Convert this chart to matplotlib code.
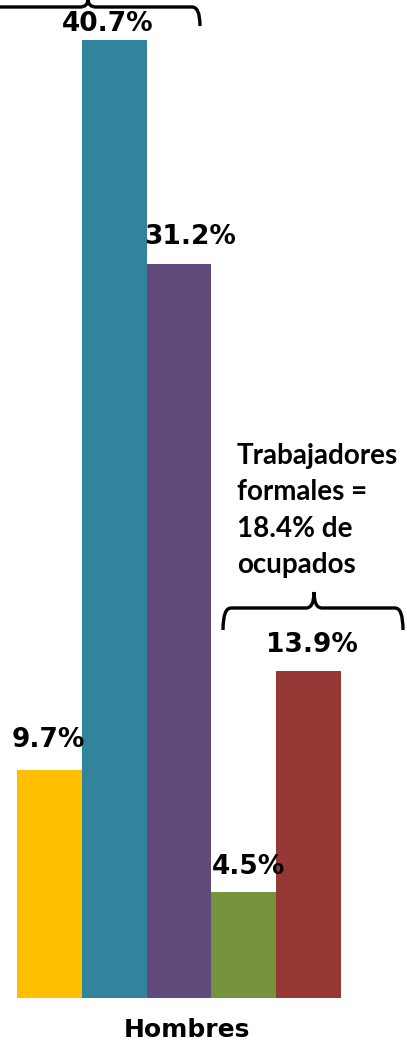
import matplotlib.pyplot as plt
import numpy as np
from matplotlib.path import Path
from matplotlib.patches import PathPatch

# data
categories = ['A', 'B', 'C', 'D', 'E']
values = [9.7, 40.7, 31.2, 4.5, 13.9]
labels = ['9.7%', '40.7%', '31.2%', '4.5%', '13.9%']
group_label = 'Hombres'
note_text = 'Trabajadores\nformales =\n18.4% de\nocupados'

colors = ['#FDBF00', '#31849B', '#604A7B', '#76923C', '#953735']
# label offsets in pixels (dx, gap above bar)
label_offsets = [(-1, 17), (-7, 3), (11, 14), (5, 12), (3, 13)]

W, H = 407, 1040
fig = plt.figure(figsize=(W / 100, H / 100), dpi=100)
ax = fig.add_axes([0, 0, 1, 1])

# pixel geometry of the original
px_per_bar = 64.8
left_px = 17
base_px = 42          # baseline, from bottom
px_per_pct = 23.54

x = np.arange(len(values))
ax.bar(x, values, width=1.0, color=colors, edgecolor='none')
ax.set_xlim(-0.5 - left_px / px_per_bar, -0.5 + (W - left_px) / px_per_bar)
ax.set_ylim(-base_px / px_per_pct, (H - base_px) / px_per_pct)
ax.axis('off')

def px2x(p):
    return -0.5 + (p - left_px) / px_per_bar

def py2y(p):
    # p measured from top of image
    return (H - p - base_px) / px_per_pct

for xi, v, lab, (dx, gap) in zip(x, values, labels, label_offsets):
    ax.annotate(lab, (xi, v), xytext=(dx * 0.72, gap * 0.72), textcoords='offset points',
                ha='center', va='bottom', fontsize=19, fontweight='bold',
                family='DejaVu Sans', color='black')

ax.text(px2x(187), py2y(1018), group_label, ha='center', va='top',
        fontsize=18, fontweight='bold', family='DejaVu Sans')

ax.text(px2x(237), py2y(443), note_text, ha='left', va='top',
        fontsize=20, fontweight='bold', family='Lato', linespacing=1.5)


def brace(x0, x1, xm, y_end, y_line, y_tip, r):
    verts = [
        (x0, y_end), (x0, y_line), (x0 + r, y_line),
        (xm - r, y_line), (xm, y_line), (xm, y_tip),
        (xm, y_line), (xm + r, y_line),
        (x1 - r, y_line), (x1, y_line), (x1, y_end),
    ]
    codes = [Path.MOVETO, Path.CURVE3, Path.CURVE3,
             Path.LINETO, Path.CURVE3, Path.CURVE3,
             Path.CURVE3, Path.CURVE3,
             Path.LINETO, Path.CURVE3, Path.CURVE3]
    ax.add_patch(PathPatch(Path(verts, codes), fill=False, lw=2.4,
                           edgecolor='black', capstyle='butt'))

# top brace (left end falls off the canvas)
brace(px2x(-24), px2x(200), px2x(88), py2y(26), py2y(7), py2y(-1), 8 / px_per_bar)
# right brace over formal workers
brace(px2x(223), px2x(403), px2x(314), py2y(630), py2y(608), py2y(592), 8 / px_per_bar)

fig.savefig('out.png', dpi=100)
